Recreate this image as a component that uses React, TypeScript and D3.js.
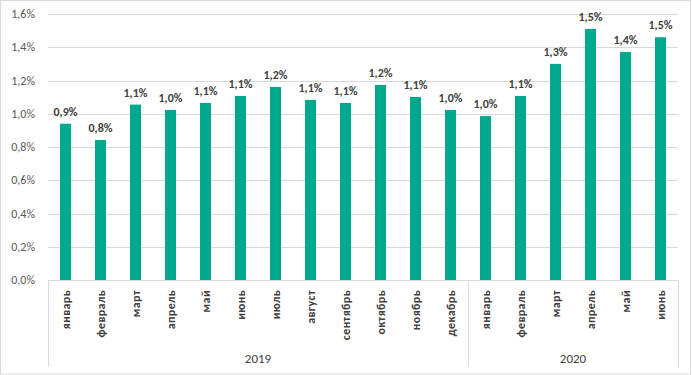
import React from "react";
import * as d3 from "d3";

const months = ["январь","февраль","март","апрель","май","июнь","июль","август","сентябрь","октябрь","ноябрь","декабрь","январь","февраль","март","апрель","май","июнь"];
const years = ["2019","2020"];
const yearOfMonth = [0,0,0,0,0,0,0,0,0,0,0,0,1,1,1,1,1,1];
const values = [0.94,0.842,1.055,1.023,1.065,1.107,1.161,1.083,1.065,1.173,1.101,1.023,0.986,1.107,1.30,1.51,1.371,1.46];
const yTicks = [0,0.2,0.4,0.6,0.8,1.0,1.2,1.4,1.6];

const W = 692, H = 375;
const left = 48, right = 678, top = 14, bottom = 280;
const fmt = (v: number) => v.toFixed(1).replace(".", ",") + "%";

export default function App() {
  const x = d3.scaleBand<number>().domain(months.map((_, i) => i)).range([left, right]).paddingInner(0.686).paddingOuter(0.343);
  const y = d3.scaleLinear().domain([0, 1.6]).range([bottom, top]);
  const step = x.step();
  const groups = years.map((yr, gi) => {
    const idx = yearOfMonth.map((g, i) => (g === gi ? i : -1)).filter(i => i >= 0);
    const x0 = left + idx[0] * step;
    const x1 = left + (idx[idx.length - 1] + 1) * step;
    return { yr, x0, x1 };
  });
  const font = "Carlito, Calibri, 'Liberation Sans', Arial, sans-serif";
  return (
    <svg width={W} height={H} style={{ position: "absolute", left: 0, top: 0, background: "#fff" }} fontFamily={font}>
      <rect x={0.5} y={0.5} width={W - 2} height={H - 1.5} fill="#fff" stroke="#d9d9d9" />
      {yTicks.map(t => (
        <g key={t}>
          <line x1={left} x2={right} y1={Math.round(y(t)) + 0.5} y2={Math.round(y(t)) + 0.5} stroke="#d9d9d9" />
          <text x={35} y={y(t)} dy="0.35em" textAnchor="end" fontSize={12} fill="#595959">{fmt(t)}</text>
        </g>
      ))}
      {values.map((v, i) => (
        <rect key={i} x={x(i)} y={y(v)} width={x.bandwidth()} height={y(0) - y(v)} fill="#00A98E" />
      ))}
      {values.map((v, i) => (
        <text key={"l" + i} x={(x(i) as number) + x.bandwidth() / 2} y={y(v) - 8} textAnchor="middle" fontSize={12} fontWeight="bold" fill="#404040">{fmt(v)}</text>
      ))}
      {months.map((m, i) => (
        <text key={"m" + i} transform={`translate(${(x(i) as number) + x.bandwidth() / 2},290) rotate(-90)`} textAnchor="end" dy="0.35em" fontSize={12} letterSpacing={0.4} fontWeight="bold" fill="#404040">{m}</text>
      ))}
      {groups.map((g, gi) => (
        <g key={g.yr}>
          <line x1={Math.round(g.x0) + 0.5} x2={Math.round(g.x0) + 0.5} y1={bottom} y2={367} stroke="#d9d9d9" />
          {gi === groups.length - 1 && (
            <line x1={Math.round(g.x1) + 0.5} x2={Math.round(g.x1) + 0.5} y1={bottom} y2={367} stroke="#d9d9d9" />
          )}
          <text x={(g.x0 + g.x1) / 2} y={363} textAnchor="middle" fontSize={13} fill="#404040">{g.yr}</text>
        </g>
      ))}
    </svg>
  );
}
